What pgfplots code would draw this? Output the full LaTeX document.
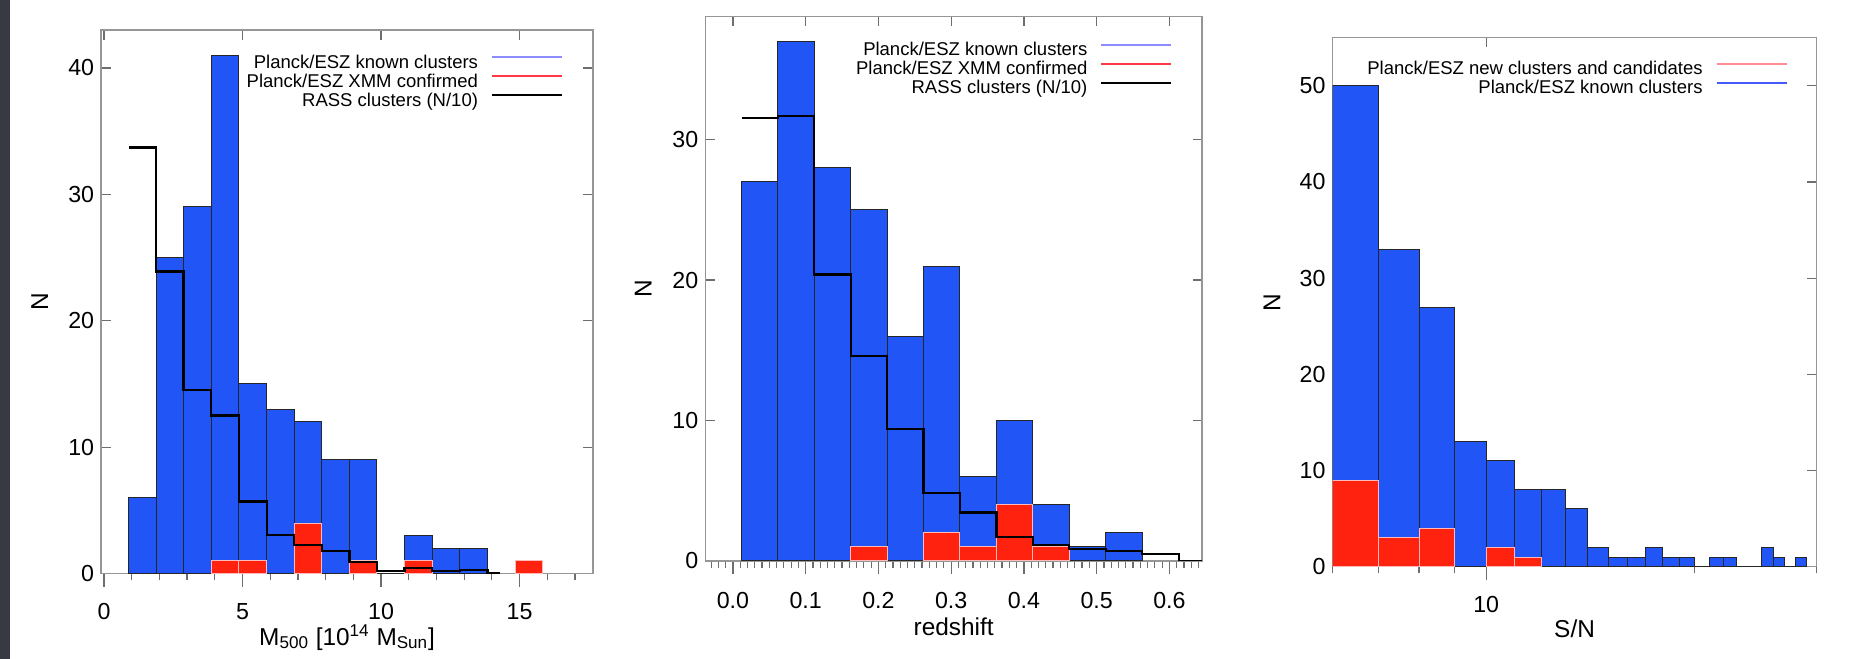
\documentclass[border=0pt]{standalone}
\usepackage{fontspec}
\setmainfont{Liberation Sans}
\usepackage{pgfplots}
\pgfplotsset{compat=1.18}

\definecolor{barblue}{RGB}{34,85,245}
\definecolor{barred}{RGB}{255,35,15}
\definecolor{redge}{RGB}{255,185,185}
\definecolor{framegray}{RGB}{150,150,150}
\definecolor{tickgray}{RGB}{110,110,110}
\definecolor{legblue}{RGB}{140,140,255}
\definecolor{legred}{RGB}{255,55,70}
\definecolor{legpink}{RGB}{255,140,150}
\definecolor{legblueB}{RGB}{70,90,250}
\definecolor{screen}{RGB}{55,58,66}

\pgfplotsset{
  panel/.style={
    scale only axis, anchor=south west, ymin=0,
    axis line style={framegray, line width=0.75pt},
    every tick/.style={tickgray, line width=0.6pt},
    tick label style={font=\fontsize{11.6}{13}\selectfont},
    label style={font=\fontsize{12.2}{14}\selectfont},
    /pgf/number format/assume math mode=true,
  },
  % bottom axis: outward ticks, numbers and the x label
  ticksbelow/.style={
    panel, xtick pos=left, tick align=outside, ytick=\empty,
    major tick length=6.5pt, minor tick length=3.3pt,
    xticklabel style={anchor=center, yshift=-12.5pt},
    xlabel style={at={(rel axis cs:0.5,0)}, anchor=center},
  },
  % frame with inward ticks, y numbers, the data and the legend
  frameticks/.style={
    panel, xtick pos=right, xticklabels={}, tick align=inside,
    major tick length=4.8pt, ytick pos=both, yticklabel pos=left,
    ylabel={N}, ylabel style={at={(rel axis cs:-0.125,0.5)}, anchor=center},
    legend plot pos=right, legend cell align=right,
    legend image code/.code={\draw[#1] (0pt,3.3pt) -- (35pt,3.3pt);},
    legend style={at={(rel axis cs:1,1)}, anchor=north east, draw=none, fill=none,
      inner sep=0pt, outer sep=0pt, font=\fontsize{9.25}{9.5}\selectfont,
      nodes={inner sep=0pt, text height=7pt, text depth=2.5pt},
      column sep=0pt, /tikz/every odd column/.style={column sep=6.5pt}},
  },
  blue bars/.style={ybar interval, fill=barblue, draw=black!85, line width=0.5pt, forget plot},
  red bars/.style={ybar interval, fill=barred, draw=redge, line width=0.5pt, forget plot},
  rass/.style={const plot, black, line width=1.1pt, forget plot},
}

\begin{document}
\begin{tikzpicture}
\fill[white] (0,0) rectangle (930pt,329.5pt);
\fill[screen] (0,0) rectangle (5pt,329.5pt);

% ---------------- mass ----------------
\begin{axis}[ticksbelow, at={(50.6pt,42.7pt)}, width=245.9pt, height=271.8pt,
  xmin=-0.1, xmax=17.65, ymax=43,
  xtick={0,5,10,15}, minor xtick={1,2,3,4,6,7,8,9,11,12,13,14,16,17},
  xlabel={M\textsubscript{500} [10\textsuperscript{14} M\textsubscript{Sun}]},
  xlabel style={yshift=-32pt}]
\end{axis}
\begin{axis}[frameticks, at={(50.6pt,42.7pt)}, width=245.9pt, height=271.8pt,
  xmin=-0.1, xmax=17.65, ymax=43,
  xtick={0,5,10,15}, ytick={0,10,20,30,40},
  legend style={xshift=-15pt, yshift=-12.1pt}]
\addlegendimage{legblue, line width=1pt}\addlegendentry{Planck/ESZ known clusters}
\addlegendimage{legred, line width=1pt}\addlegendentry{Planck/ESZ XMM confirmed}
\addlegendimage{black, line width=1pt}\addlegendentry{RASS clusters (N/10)}
\addplot[blue bars] coordinates {(0.88,6) (1.88,25) (2.87,29) (3.87,41) (4.87,15)
  (5.87,13) (6.86,12) (7.86,9) (8.86,9) (9.85,0) (10.85,3) (11.85,2) (12.84,2) (13.84,0)};
\addplot[red bars] coordinates {(3.87,1) (4.87,1) (5.87,0)};
\addplot[red bars] coordinates {(6.86,4) (7.86,0)};
\addplot[red bars] coordinates {(8.86,1) (9.85,0)};
\addplot[red bars] coordinates {(10.85,1) (11.85,0)};
\addplot[red bars] coordinates {(14.84,1) (15.84,0)};
\addplot[rass] coordinates {(0.9,33.7) (1.88,23.9) (2.87,14.5) (3.87,12.5) (4.87,5.7)
  (5.87,3.05) (6.86,2.25) (7.86,1.8) (8.86,0.9) (9.85,0.2) (10.85,0.45) (11.85,0.2)
  (12.84,0.3) (13.84,0.05) (14.3,0.05)};
\end{axis}

% ---------------- redshift ----------------
\begin{axis}[ticksbelow, at={(352.65pt,49pt)}, width=248.4pt, height=272.15pt,
  xmin=-0.038, xmax=0.645, ymax=38.75,
  xtick={0,0.1,0.2,0.3,0.4,0.5,0.6}, xticklabels={0.0,0.1,0.2,0.3,0.4,0.5,0.6},
  xticklabel style={yshift=-1pt},
  minor xtick={-0.03,-0.02,...,0.64},
  xlabel={redshift}, xlabel style={yshift=-33pt}]
\end{axis}
\begin{axis}[frameticks, at={(352.65pt,49pt)}, width=248.4pt, height=272.15pt,
  xmin=-0.038, xmax=0.645, ymax=38.75,
  xtick={0,0.1,0.2,0.3,0.4,0.5,0.6}, ytick={0,10,20,30},
  legend style={xshift=-14.85pt, yshift=-12.6pt}]
\addlegendimage{legblue, line width=1pt}\addlegendentry{Planck/ESZ known clusters}
\addlegendimage{legred, line width=1pt}\addlegendentry{Planck/ESZ XMM confirmed}
\addlegendimage{black, line width=1pt}\addlegendentry{RASS clusters (N/10)}
\addplot[blue bars] coordinates {(0.0115,27) (0.0616,37) (0.1117,28) (0.1618,25)
  (0.2119,16) (0.262,21) (0.3121,6) (0.3622,10) (0.4123,4) (0.4624,1) (0.5125,2) (0.5626,0)};
\addplot[red bars] coordinates {(0.1618,1) (0.2119,0)};
\addplot[red bars] coordinates {(0.262,2) (0.3121,1) (0.3622,4) (0.4123,1) (0.4624,0)};
\addplot[rass] coordinates {(0.0125,31.55) (0.0616,31.7) (0.1117,20.4) (0.1618,14.6)
  (0.2119,9.4) (0.262,4.85) (0.3121,3.45) (0.3622,1.7) (0.4123,1.15) (0.4624,0.85)
  (0.5125,0.7) (0.5626,0.5) (0.6127,0) (0.645,0)};
\end{axis}

% ---------------- S/N ----------------
\begin{axis}[ticksbelow, xmode=log, at={(666.25pt,46.15pt)}, width=242.05pt, height=264.5pt,
  xmin=6, xmax=30, ymax=55,
  xtick={10}, xticklabels={10}, minor xtick={6,7,8,9,20,30},
  xlabel={S/N}, xlabel style={yshift=-31pt}]
\end{axis}
\begin{axis}[frameticks, xmode=log, at={(666.25pt,46.15pt)}, width=242.05pt, height=264.5pt,
  xmin=6, xmax=30, ymax=55,
  xtick={10}, ytick={0,10,20,30,40,50},
  legend style={xshift=-14.5pt, yshift=-11.6pt}]
\addlegendimage{legpink, line width=1pt}\addlegendentry{Planck/ESZ new clusters and candidates}
\addlegendimage{legblueB, line width=1pt}\addlegendentry{Planck/ESZ known clusters}
\addplot[blue bars] coordinates {(6,50) (7,33) (8,27) (9,13) (10,11) (11,8) (12,8) (13,6)
  (14,2) (15,1) (16,1) (17,2) (18,1) (19,1) (20,0) (21,1) (22,1) (23,0) (24,0) (25,2)
  (26,1) (27,0) (28,1) (29,0)};
\addplot[red bars] coordinates {(6,9) (7,3) (8,4) (9,0)};
\addplot[red bars] coordinates {(10,2) (11,1) (12,0)};
\end{axis}

\pgfresetboundingbox
\useasboundingbox (0,0) rectangle (930pt,329.5pt);
\end{tikzpicture}
\end{document}
